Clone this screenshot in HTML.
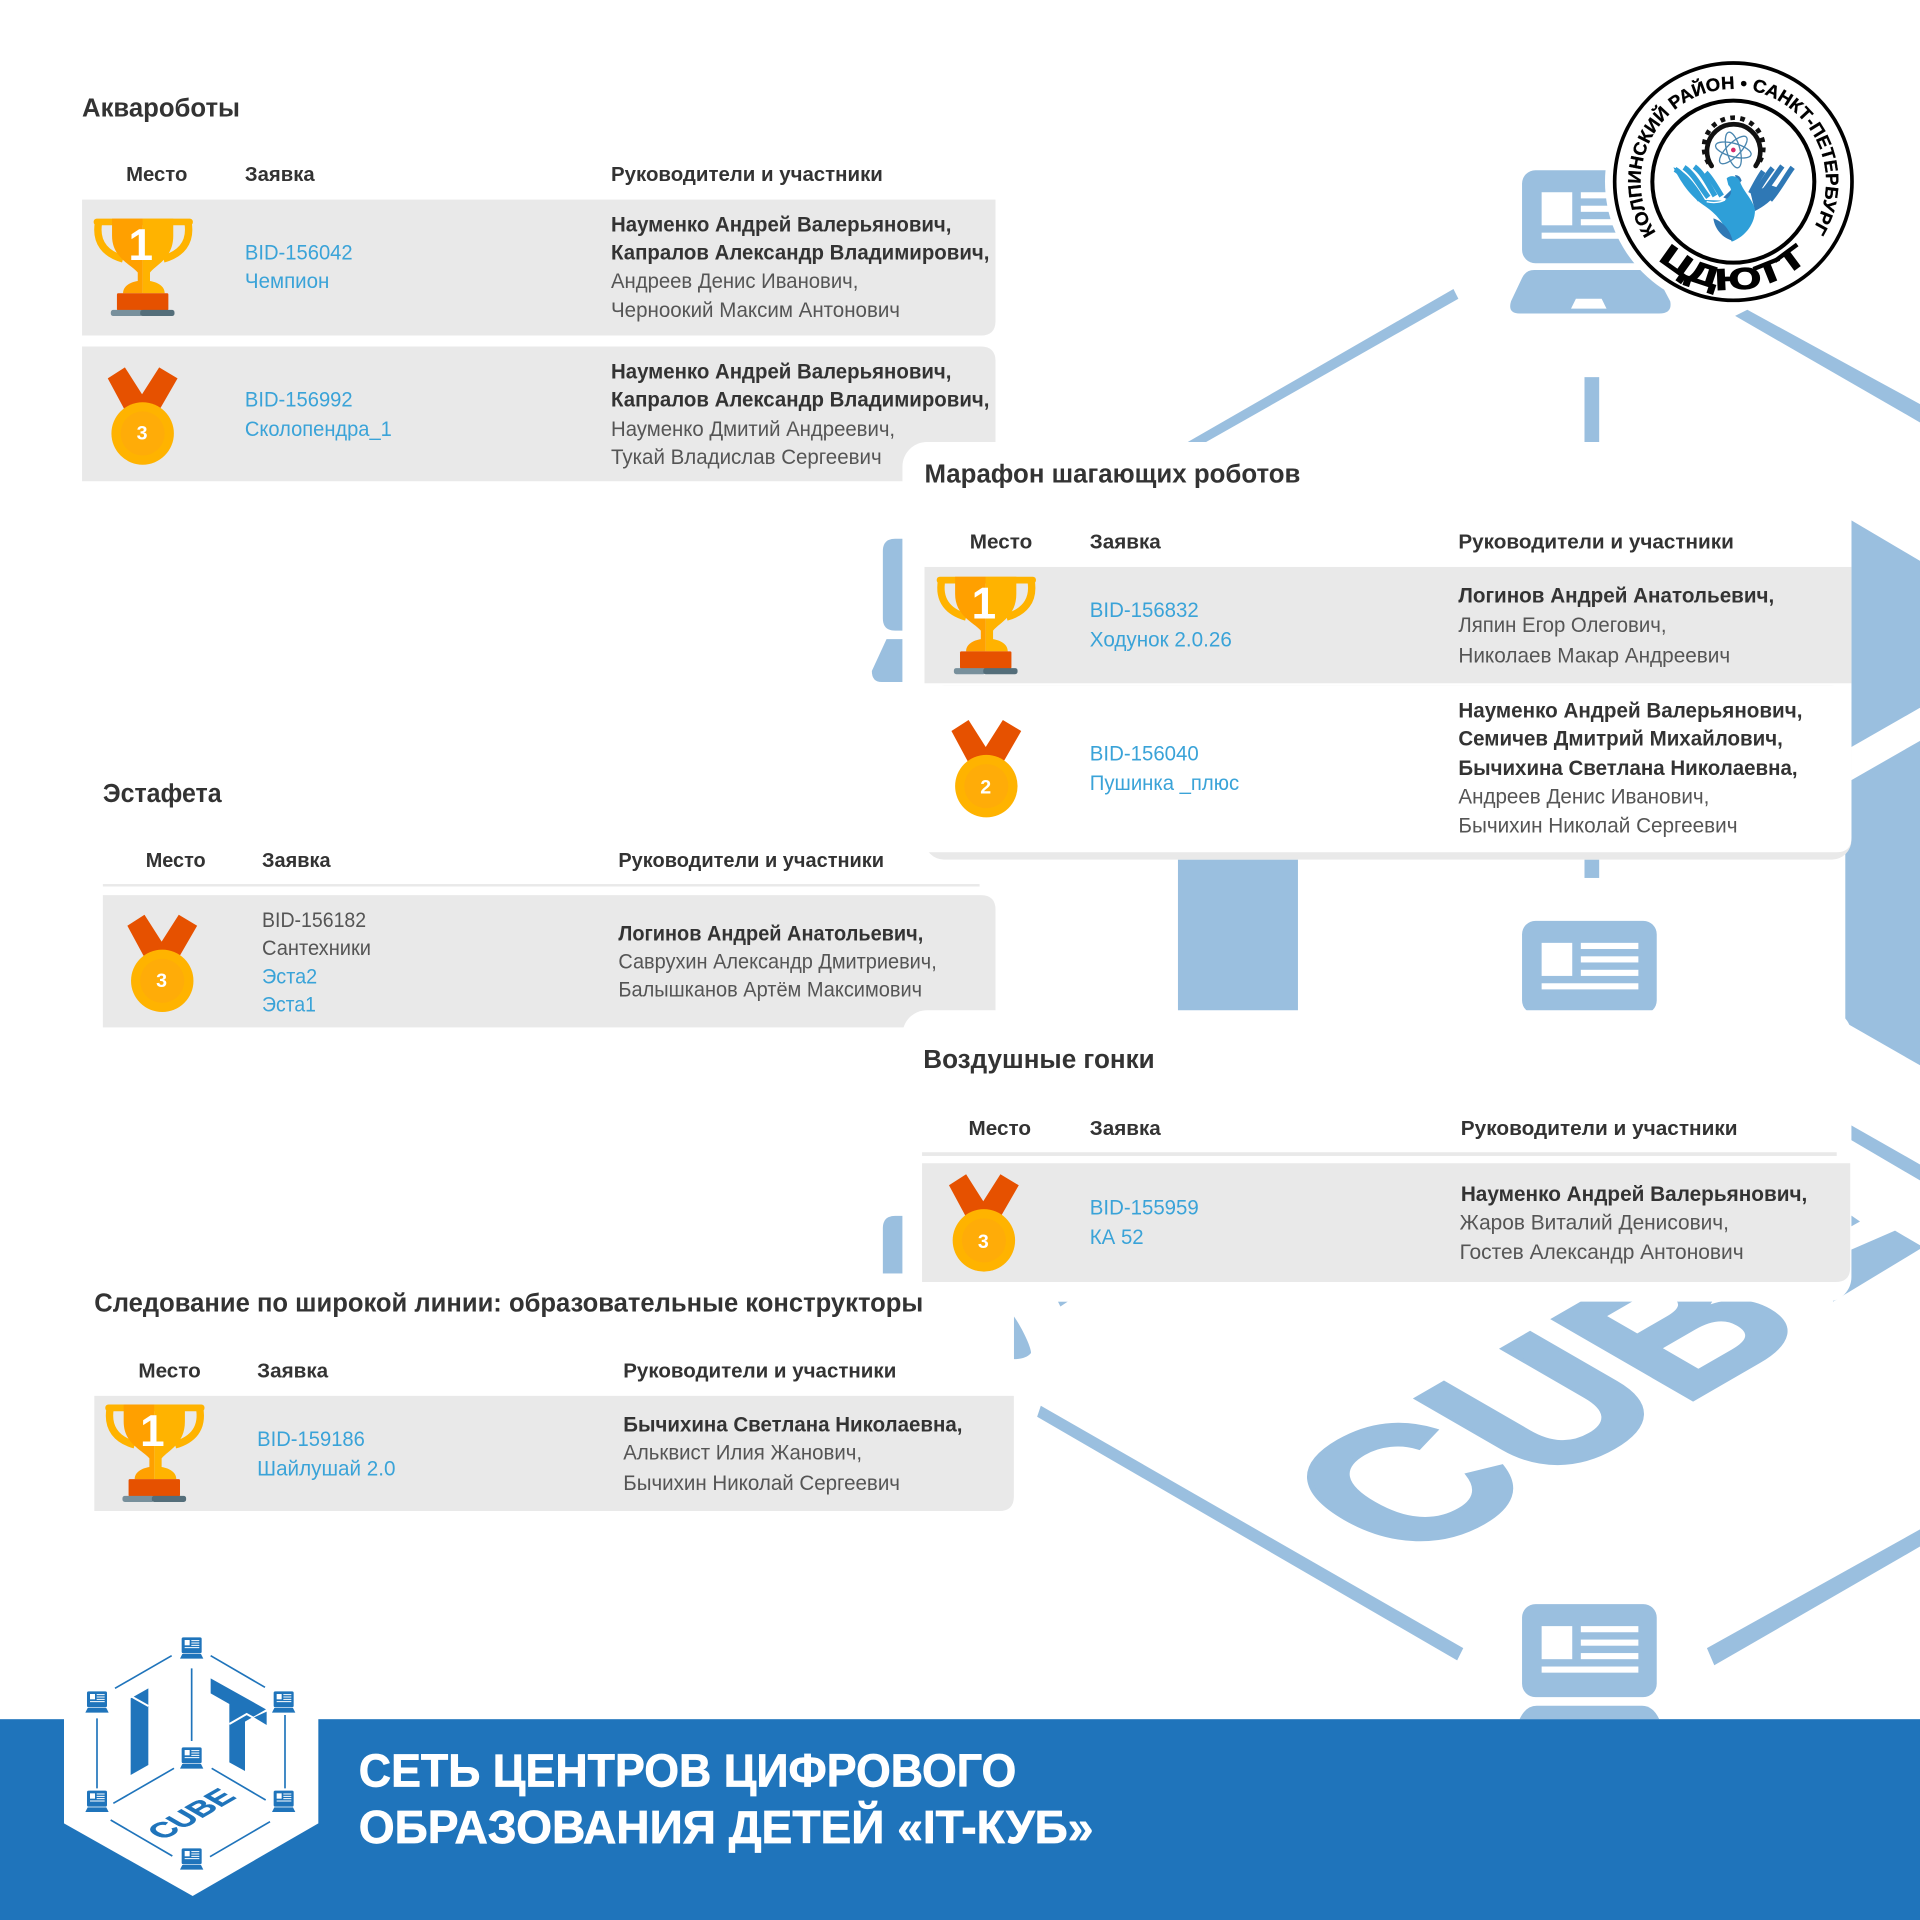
<!DOCTYPE html>
<html><head><meta charset="utf-8"><style>
html,body{margin:0;padding:0;background:#fff}
svg{display:block}
text{font-family:"Liberation Sans",sans-serif}
.t{font-size:21px;font-weight:700;fill:#333}
.h{font-size:16.5px;font-weight:700;fill:#333}
.l{font-size:17px;fill:#3aa3d8}
.g{font-size:17px;fill:#555}
.b{font-size:17px;font-weight:700;fill:#333}
</style></head><body>
<svg width="1920" height="1920" viewBox="0 0 1920 1920" xmlns="http://www.w3.org/2000/svg">
<defs>
<g id="scr">
<rect x="0" y="0" width="110" height="76" rx="11" fill="#9abfdf"/>
<rect x="16" y="18" width="25" height="27" fill="#fff"/>
<rect x="48" y="18" width="47" height="5" fill="#fff"/><rect x="48" y="29" width="47" height="5" fill="#fff"/><rect x="48" y="40" width="47" height="5" fill="#fff"/>
<rect x="16" y="51" width="79" height="5" fill="#fff"/>
</g>
<g id="tr">
<path d="M4 3C1 20 10 29 24 33" fill="none" stroke="#ffb300" stroke-width="6"/>
<path d="M77 3C80 20 71 29 57 33" fill="none" stroke="#ffb300" stroke-width="6"/>
<rect x="0" y="0" width="81" height="5.5" rx="2.5" fill="#ffb300"/>
<path d="M15 0H40V61H24C24 55 30 52 36 51V44C30 37 15 32 15 14Z" fill="#ffa000"/>
<path d="M65 0H40V61H58C58 55 52 52 46 51V44C52 37 65 32 65 14Z" fill="#ffb300"/>
<rect x="19" y="61" width="42" height="14" rx="1" fill="#e65100"/>
<rect x="14" y="74.6" width="26" height="5" rx="2" fill="#78909c"/>
<rect x="38" y="74.6" width="28" height="5" rx="2" fill="#546e7a"/>
<text x="38.5" y="34" text-anchor="middle" font-size="36" font-weight="700" fill="#fff">1</text>
</g>
<g id="med">
<polygon points="0,10 14,1 28,23 42,1 57,10 42,36 14,36" fill="#e65100"/>
<circle cx="28.5" cy="55" r="25.5" fill="#ffb300"/>
<circle cx="28.5" cy="55" r="18" fill="#ffac08"/>
</g>
<g id="lap">
<rect x="545" y="112" width="60" height="48" rx="5" fill="#1f74bb"/>
<rect x="554" y="120" width="15" height="16" fill="#fff"/>
<path d="M574 122H598M574 129H598M574 136H598M554 143H598" stroke="#fff" stroke-width="3"/>
<path d="M547 162H603L610 176H540Z" fill="#1f74bb"/>
</g>
</defs>
<rect width="1920" height="1920" fill="#fff"/>

<g transform="scale(1.22449)">
<!-- watermark -->
<g fill="#9abfdf">
<polygon points="1187,236 1191,244 985,361 970,361"/>
<polygon points="1427,253 1568,330 1568,345 1417,258"/>
<rect x="1294" y="308" width="12" height="60"/>
<path d="M1253 220.500H1343Q1351 220.500 1354 227L1364 246Q1366 256 1355 256H1241Q1231 256 1234 246L1243 227Q1246 220.500 1253 220.500Z"/>
<polygon points="1287,244 1308,244 1312,252 1283,252" fill="#fff"/>
<path d="M737 440H731Q721 440 721 450V505Q721 515 731 515H737Z"/>
<path d="M737 522H724L712 548Q712 557 720 557H737Z"/>
<polygon points="1512,425 1568,458 1568,578 1512,610"/>
<polygon points="1507,640 1568,605 1568,870 1507,835"/>
<rect x="962" y="695" width="98" height="135"/>
<rect x="1294" y="695" width="12" height="22"/>
<path d="M737 993H731Q721 993 721 1003V1045H737Z"/>
<polygon points="1511,918.500 1568,951 1568,964 1510,930"/>
<polygon points="1511,992 1519,997.600 1511,1002"/>
<polygon points="1547.600,1005 1568,1017 1568,1020 1497,1063 1490,1030"/>
<text transform="matrix(.866 -.5 .866 .5 1150 1277)" font-size="190" font-weight="700" stroke="#9abfdf" stroke-width="4" textLength="385" lengthAdjust="spacingAndGlyphs">CUB</text>
<polygon points="864,1063 872,1063 866,1067"/>
<path d="M828 1075C835 1085 842 1100 842 1105Q838 1110 828 1110Z"/>
<polygon points="850,1148 1195,1346 1190,1356 847,1157"/>
<polygon points="1394,1346 1568,1249 1568,1263 1400,1360"/>
</g>
<use href="#scr" x="1243" y="139"/>
<use href="#scr" x="1243" y="752"/>
<use href="#scr" x="1243" y="1310"/>
<path d="M1255 1393H1341Q1350 1393 1355 1404H1241Q1246 1393 1255 1393Z" fill="#9abfdf"/>

<!-- panel 1 -->
<text class="t" x="67" y="95" textLength="129" lengthAdjust="spacingAndGlyphs">Аквароботы</text>
<text class="h" x="103" y="148" textLength="50" lengthAdjust="spacingAndGlyphs">Место</text>
<text class="h" x="200" y="148" textLength="57" lengthAdjust="spacingAndGlyphs">Заявка</text>
<text class="h" x="499" y="148" textLength="222" lengthAdjust="spacingAndGlyphs">Руководители и участники</text>
<path d="M67 163H813V262Q813 274 801 274H67Z" fill="#e9e9e9"/>
<path d="M67 283H801Q813 283 813 295V393H67Z" fill="#e9e9e9"/>
<use href="#tr" x="76.500" y="178.500"/>
<use href="#med" x="88" y="299"/><text x="116" y="359" text-anchor="middle" font-size="16" font-weight="700" fill="#fff">3</text>
<text class="l" x="200" y="212" textLength="88" lengthAdjust="spacingAndGlyphs">BID-156042</text>
<text class="l" x="200" y="235" textLength="69" lengthAdjust="spacingAndGlyphs">Чемпион</text>
<text class="b" x="499" y="189" textLength="278" lengthAdjust="spacingAndGlyphs">Науменко Андрей Валерьянович,</text>
<text class="b" x="499" y="212" textLength="309" lengthAdjust="spacingAndGlyphs">Капралов Александр Владимирович,</text>
<text class="g" x="499" y="235" textLength="202" lengthAdjust="spacingAndGlyphs">Андреев Денис Иванович,</text>
<text class="g" x="499" y="259" textLength="236" lengthAdjust="spacingAndGlyphs">Черноокий Максим Антонович</text>
<text class="l" x="200" y="332" textLength="88" lengthAdjust="spacingAndGlyphs">BID-156992</text>
<text class="l" x="200" y="356" textLength="120" lengthAdjust="spacingAndGlyphs">Сколопендра_1</text>
<text class="b" x="499" y="309" textLength="278" lengthAdjust="spacingAndGlyphs">Науменко Андрей Валерьянович,</text>
<text class="b" x="499" y="332" textLength="309" lengthAdjust="spacingAndGlyphs">Капралов Александр Владимирович,</text>
<text class="g" x="499" y="356" textLength="232" lengthAdjust="spacingAndGlyphs">Науменко Дмитий Андреевич,</text>
<text class="g" x="499" y="379" textLength="221" lengthAdjust="spacingAndGlyphs">Тукай Владислав Сергеевич</text>

<!-- panel 2 -->
<rect x="737" y="361" width="775" height="341" rx="20" fill="#fff"/>
<rect x="755" y="560" width="757" height="142" rx="16" fill="#e9e9e9"/>
<path d="M755 560H1512V684Q1512 696 1500 696H755Z" fill="#fff"/>
<rect x="755" y="463" width="757" height="95" fill="#e9e9e9"/>
<text class="t" x="755" y="394" textLength="307" lengthAdjust="spacingAndGlyphs">Марафон шагающих роботов</text>
<text class="h" x="792" y="448" textLength="51" lengthAdjust="spacingAndGlyphs">Место</text>
<text class="h" x="890" y="448" textLength="58" lengthAdjust="spacingAndGlyphs">Заявка</text>
<text class="h" x="1191" y="448" textLength="225" lengthAdjust="spacingAndGlyphs">Руководители и участники</text>
<use href="#tr" x="765" y="471"/>
<use href="#med" x="777" y="587"/><text x="805" y="648" text-anchor="middle" font-size="16" font-weight="700" fill="#fff">2</text>
<text class="l" x="890" y="504" textLength="89" lengthAdjust="spacingAndGlyphs">BID-156832</text>
<text class="l" x="890" y="528" textLength="116" lengthAdjust="spacingAndGlyphs">Ходунок 2.0.26</text>
<text class="b" x="1191" y="492" textLength="258" lengthAdjust="spacingAndGlyphs">Логинов Андрей Анатольевич,</text>
<text class="g" x="1191" y="516" textLength="170" lengthAdjust="spacingAndGlyphs">Ляпин Егор Олегович,</text>
<text class="g" x="1191" y="541" textLength="222" lengthAdjust="spacingAndGlyphs">Николаев Макар Андреевич</text>
<text class="l" x="890" y="621" textLength="89" lengthAdjust="spacingAndGlyphs">BID-156040</text>
<text class="l" x="890" y="645" textLength="122" lengthAdjust="spacingAndGlyphs">Пушинка _плюс</text>
<text class="b" x="1191" y="586" textLength="281" lengthAdjust="spacingAndGlyphs">Науменко Андрей Валерьянович,</text>
<text class="b" x="1191" y="609" textLength="265" lengthAdjust="spacingAndGlyphs">Семичев Дмитрий Михайлович,</text>
<text class="b" x="1191" y="633" textLength="277" lengthAdjust="spacingAndGlyphs">Бычихина Светлана Николаевна,</text>
<text class="g" x="1191" y="656" textLength="205" lengthAdjust="spacingAndGlyphs">Андреев Денис Иванович,</text>
<text class="g" x="1191" y="680" textLength="228" lengthAdjust="spacingAndGlyphs">Бычихин Николай Сергеевич</text>

<!-- estafeta -->
<text class="t" x="84" y="655" textLength="97" lengthAdjust="spacingAndGlyphs">Эстафета</text>
<text class="h" x="119" y="708" textLength="49" lengthAdjust="spacingAndGlyphs">Место</text>
<text class="h" x="214" y="708" textLength="56" lengthAdjust="spacingAndGlyphs">Заявка</text>
<text class="h" x="505" y="708" textLength="217" lengthAdjust="spacingAndGlyphs">Руководители и участники</text>
<rect x="84" y="722" width="716" height="2" fill="#e9e9e9"/>
<path d="M84 731H801Q813 731 813 743V839H84Z" fill="#e9e9e9"/>
<use href="#med" x="104" y="746"/><text x="132" y="806" text-anchor="middle" font-size="16" font-weight="700" fill="#fff">3</text>
<text class="g" x="214" y="757" textLength="85" lengthAdjust="spacingAndGlyphs">BID-156182</text>
<text class="g" x="214" y="780" textLength="89" lengthAdjust="spacingAndGlyphs">Сантехники</text>
<text class="l" x="214" y="803" textLength="45" lengthAdjust="spacingAndGlyphs">Эста2</text>
<text class="l" x="214" y="826" textLength="44" lengthAdjust="spacingAndGlyphs">Эста1</text>
<text class="b" x="505" y="768" textLength="249" lengthAdjust="spacingAndGlyphs">Логинов Андрей Анатольевич,</text>
<text class="g" x="505" y="791" textLength="260" lengthAdjust="spacingAndGlyphs">Саврухин Александр Дмитриевич,</text>
<text class="g" x="505" y="814" textLength="248" lengthAdjust="spacingAndGlyphs">Балышканов Артём Максимович</text>

<!-- panel 4 background, beneath panel 3 -->
<rect x="0" y="1040" width="828" height="210" fill="#fff"/>

<!-- panel 3 -->
<rect x="737" y="825" width="775" height="238" rx="20" fill="#fff"/>
<text class="t" x="754" y="872" textLength="189" lengthAdjust="spacingAndGlyphs">Воздушные гонки</text>
<text class="h" x="791" y="927" textLength="51" lengthAdjust="spacingAndGlyphs">Место</text>
<text class="h" x="890" y="927" textLength="58" lengthAdjust="spacingAndGlyphs">Заявка</text>
<text class="h" x="1193" y="927" textLength="226" lengthAdjust="spacingAndGlyphs">Руководители и участники</text>
<rect x="753" y="941" width="747" height="3" fill="#e9e9e9"/>
<path d="M753 950H1511V1035Q1511 1047 1499 1047H753Z" fill="#e9e9e9"/>
<use href="#med" x="775" y="958"/><text x="803" y="1019" text-anchor="middle" font-size="16" font-weight="700" fill="#fff">3</text>
<text class="l" x="890" y="992" textLength="89" lengthAdjust="spacingAndGlyphs">BID-155959</text>
<text class="l" x="890" y="1016" textLength="44" lengthAdjust="spacingAndGlyphs">КА 52</text>
<text class="b" x="1193" y="981" textLength="283" lengthAdjust="spacingAndGlyphs">Науменко Андрей Валерьянович,</text>
<text class="g" x="1192" y="1004" textLength="220" lengthAdjust="spacingAndGlyphs">Жаров Виталий Денисович,</text>
<text class="g" x="1192" y="1028" textLength="232" lengthAdjust="spacingAndGlyphs">Гостев Александр Антонович</text>

<!-- panel 4 -->
<text class="t" x="77" y="1071" textLength="677" lengthAdjust="spacingAndGlyphs">Следование по широкой линии: образовательные конструкторы</text>
<text class="h" x="113" y="1125" textLength="51" lengthAdjust="spacingAndGlyphs">Место</text>
<text class="h" x="210" y="1125" textLength="58" lengthAdjust="spacingAndGlyphs">Заявка</text>
<text class="h" x="509" y="1125" textLength="223" lengthAdjust="spacingAndGlyphs">Руководители и участники</text>
<path d="M77 1140H828V1222Q828 1234 816 1234H77Z" fill="#e9e9e9"/>
<use href="#tr" x="86" y="1147"/>
<text class="l" x="210" y="1181" textLength="88" lengthAdjust="spacingAndGlyphs">BID-159186</text>
<text class="l" x="210" y="1205" textLength="113" lengthAdjust="spacingAndGlyphs">Шайлушай 2.0</text>
<text class="b" x="509" y="1169" textLength="277" lengthAdjust="spacingAndGlyphs">Бычихина Светлана Николаевна,</text>
<text class="g" x="509" y="1192" textLength="195" lengthAdjust="spacingAndGlyphs">Альквист Илия Жанович,</text>
<text class="g" x="509" y="1217" textLength="226" lengthAdjust="spacingAndGlyphs">Бычихин Николай Сергеевич</text>

<!-- bottom bar -->
<rect x="0" y="1404" width="1568" height="164" fill="#1f74bb"/>
<text x="293" y="1459" font-size="38" font-weight="700" fill="#fff" stroke="#fff" stroke-width=".6" textLength="537" lengthAdjust="spacingAndGlyphs">СЕТЬ ЦЕНТРОВ ЦИФРОВОГО</text>
<text x="293" y="1505" font-size="38" font-weight="700" fill="#fff" stroke="#fff" stroke-width=".6" textLength="600" lengthAdjust="spacingAndGlyphs">ОБРАЗОВАНИЯ ДЕТЕЙ «IT-КУБ»</text>
</g>

<!-- IT cube logo -->
<g transform="translate(0 1600) scale(.33333)">
<polygon points="192,357 192,670 578,888 955,670 955,357 575,90" fill="#fff"/>
<rect x="150" y="0" width="850" height="357" fill="#fff"/>
<use href="#lap"/>
<use href="#lap" x="-284" y="162"/>
<use href="#lap" x="276" y="162"/>
<use href="#lap" y="330"/>
<use href="#lap" x="-284" y="460"/>
<use href="#lap" x="276" y="460"/>
<use href="#lap" y="633"/>
<g stroke="#1f74bb" stroke-width="5" fill="none">
<path d="M345 265L515 167M632 167L795 262M575 205V423M291 355V565M855 345V565M340 610L522 505M635 505L797 600M332 660L517 768M810 665L630 770"/>
</g>
<polygon points="392,295 445,265 445,495 392,525" fill="#1f74bb"/>
<path d="M395 290L445 318" stroke="#fff" stroke-width="6"/>
<polygon points="632,235 798,328 735,365 735,513 688,487 688,312 632,280" fill="#1f74bb"/>
<path d="M688 372L740 342L765 356" stroke="#fff" stroke-width="6" fill="none"/>
<polygon points="762,352 800,335 800,375" fill="#1f74bb"/>
<text transform="matrix(.866 -.5 .866 .5 489 722)" font-size="91" font-weight="700" fill="#1f74bb" stroke="#1f74bb" stroke-width="1.500">CUBE</text>
</g>

<!-- ЦДЮТТ logo -->
<g transform="translate(1560 40) scale(.33333)">
<circle cx="520" cy="425" r="385" fill="#fff"/>
<circle cx="520" cy="425" r="356" fill="#fff" stroke="#000" stroke-width="11"/>
<circle cx="520" cy="425" r="243" fill="#fff" stroke="#000" stroke-width="12"/>
<path id="arcTop" d="M288 578A278 278 0 1 1 752 578" fill="none"/>
<text font-size="54" font-weight="700" fill="#000" stroke="#000" stroke-width="1"><textPath href="#arcTop" textLength="1190" lengthAdjust="spacingAndGlyphs">КОЛПИНСКИЙ РАЙОН • САНКТ-ПЕТЕРБУРГ</textPath></text>
<path id="arcBot" d="M256 610A322 322 0 0 0 784 610" fill="none"/>
<text font-size="90" font-weight="700" fill="#000" stroke="#000" stroke-width="3"><textPath href="#arcBot" startOffset="61" textLength="495" lengthAdjust="spacingAndGlyphs">ЦДЮТТ</textPath></text>
<g transform="translate(300 210)">
<path d="M155 168A80 80 0 1 1 287 168" fill="none" stroke="#111" stroke-width="14" stroke-linecap="round"/>
<path d="M146 160A89 89 0 1 1 296 160" fill="none" stroke="#111" stroke-width="14" stroke-dasharray="14 16"/>
<g fill="none" stroke="#4a87b0" stroke-width="4">
<ellipse cx="220" cy="120" rx="55" ry="20" transform="rotate(15 220 120)"/>
<ellipse cx="220" cy="120" rx="55" ry="20" transform="rotate(75 220 120)"/>
<ellipse cx="220" cy="120" rx="55" ry="20" transform="rotate(-45 220 120)"/>
</g>
<circle cx="220" cy="120" r="7" fill="#d62a6a"/>
<g fill="none" stroke="#2f78b5" stroke-width="16">
<path d="M398 172C380 195 360 235 330 270"/>
<path d="M367 168C350 190 330 225 300 258"/>
<path d="M338 174C320 195 300 230 283 255"/>
<path d="M310 184C295 205 285 225 272 250"/>
</g>
<path d="M272 250L330 225L360 235C340 270 310 290 285 303Z" fill="#2f78b5"/>
<path d="M190 262L215 238L215 274Z" fill="#2f78b5"/>
<path d="M225 195Q240 195 245 212L240 218Q228 208 225 195Z" fill="#2f78b5"/>
<g fill="none" stroke="#2e9fd8" stroke-width="16">
<path d="M45 178C75 195 95 235 120 270"/>
<path d="M72 172C100 190 120 230 145 262"/>
<path d="M103 170C130 190 145 225 165 258"/>
<path d="M137 188C155 205 170 235 185 258"/>
</g>
<path d="M40 172C55 200 80 250 130 285C160 305 190 330 215 395C245 385 285 350 285 300C280 270 250 245 240 215C232 195 210 195 200 205L205 225C220 240 215 262 190 272L135 270C110 225 75 180 40 172Z" fill="#2e9fd8"/>
<path d="M140 275Q170 282 195 270" fill="none" stroke="#fff" stroke-width="4"/>
<path d="M160 325C190 335 210 360 218 392C190 385 165 360 160 325Z" fill="#2f78b5"/>
</g>
</g>
</svg>
</body></html>
